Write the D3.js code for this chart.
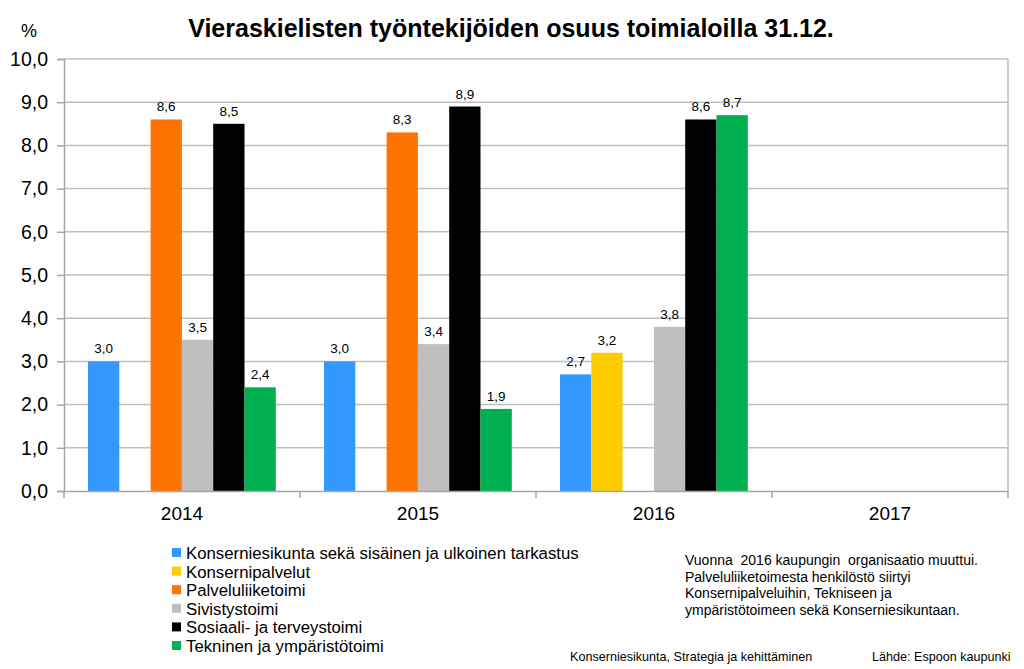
<!DOCTYPE html>
<html><head><meta charset="utf-8">
<script src="https://cdn.jsdelivr.net/npm/d3@7"></script>
<style>body{margin:0;background:#fff}svg{display:block;font-family:"Liberation Sans",Arial,sans-serif}</style>
</head><body>
<script>
const years = ["2014","2015","2016","2017"];
const seriesNames = ["Konserniesikunta sekä sisäinen ja ulkoinen tarkastus","Konsernipalvelut","Palveluliiketoimi","Sivistystoimi","Sosiaali- ja terveystoimi","Tekninen ja ympäristötoimi"];
const colors = ["#3399ff","#ffcc00","#ff7300","#bfbfbf","#000000","#00b050"];
const konserniesikunta = [3.0, 3.0, 2.7, null];
const konsernipalvelut = [null, null, 3.2, null];
const palveluliiketoimi = [8.6, 8.3, null, null];
const sivistystoimi = [3.5, 3.4, 3.8, null];
const sosiaali = [8.5, 8.9, 8.6, null];
const tekninen = [2.4, 1.9, 8.7, null];
const seriesValues = [konserniesikunta, konsernipalvelut, palveluliiketoimi, sivistystoimi, sosiaali, tekninen];
const yTicks = [0,1,2,3,4,5,6,7,8,9,10];
const noteLines = ["Vuonna  2016 kaupungin  organisaatio muuttui.","Palveluliiketoimesta henkilöstö siirtyi","Konsernipalveluihin, Tekniseen ja","ympäristötoimeen sekä Konserniesikuntaan."];

const W=1024,H=669;
const svg=d3.select("body").append("svg").attr("width",W).attr("height",H);
const L=64,R=1008,T=59,B=491;
const x=d3.scaleBand().domain(years).range([L,R]).paddingInner(0).paddingOuter(0);
const y=d3.scaleLinear().domain([0,10]).range([B,T]);
const fmt=d=>d3.format(".1f")(d).replace(".",",");

// gridlines
svg.append("g").selectAll("line").data(yTicks.filter(d=>d>0)).join("line")
  .attr("x1",L).attr("x2",R).attr("y1",d=>y(d)).attr("y2",d=>y(d))
  .attr("stroke","#bfbfbf").attr("stroke-width",1.5);
svg.append("line").attr("x1",R).attr("x2",R).attr("y1",T).attr("y2",B).attr("stroke","#bfbfbf").attr("stroke-width",1.5);

// bars
const bw=31.3;
years.forEach((yr,i)=>{
  const x0=x(yr)+24;
  seriesValues.forEach((vals,s)=>{
    const v=vals[i]; if(v==null) return;
    const bx=x0+s*bw;
    svg.append("rect").attr("x",bx).attr("y",y(v)).attr("width",bw).attr("height",B-y(v)).attr("fill",colors[s]);
    svg.append("text").attr("x",bx+bw/2).attr("y",y(v)-8).attr("text-anchor","middle")
      .attr("font-size",13.5).attr("fill","#000").text(fmt(v));
  });
});

// y axis
const ya=svg.append("g").attr("transform",`translate(${L},0)`)
  .call(d3.axisLeft(y).tickValues(yTicks).tickSize(7).tickPadding(9).tickFormat(fmt));
ya.select(".domain").attr("stroke","#a6a6a6").attr("stroke-width",1.5);
ya.selectAll(".tick line").attr("stroke","#a6a6a6").attr("stroke-width",1.5);
ya.selectAll("text").attr("font-size",19.5).attr("fill","#000").style("font-family","Liberation Sans, Arial, sans-serif");

// x axis
const xa=svg.append("g").attr("transform",`translate(0,${B})`)
  .call(d3.axisBottom(x).tickSize(0).tickPadding(16));
xa.select(".domain").attr("stroke","#a6a6a6").attr("stroke-width",1.5);
xa.selectAll("text").attr("font-size",19).attr("fill","#000").style("font-family","Liberation Sans, Arial, sans-serif");
svg.append("g").selectAll("line").data(d3.range(5)).join("line")
  .attr("x1",d=>L+d*x.bandwidth()).attr("x2",d=>L+d*x.bandwidth()).attr("y1",B).attr("y2",B+7)
  .attr("stroke","#a6a6a6").attr("stroke-width",1.5);

// title
svg.append("text").attr("x",511).attr("y",37).attr("text-anchor","middle").attr("font-size",25).attr("font-weight","bold")
  .text("Vieraskielisten työntekijöiden osuus toimialoilla 31.12.");
svg.append("text").attr("x",21).attr("y",37).attr("font-size",18).text("%");

// legend
const lg=svg.append("g");
seriesNames.forEach((n,i)=>{
  const cy=553+i*18.6;
  lg.append("rect").attr("x",172).attr("y",cy-5).attr("width",9).attr("height",9).attr("fill",colors[i]);
  lg.append("text").attr("x",186).attr("y",cy+6).attr("font-size",16.8).text(n);
});

// note
noteLines.forEach((t,i)=>{
  svg.append("text").attr("x",685).attr("y",565+i*16.7).attr("font-size",14).style("white-space","pre").text(t);
});
svg.append("text").attr("x",570).attr("y",661).attr("font-size",12.6).text("Konserniesikunta, Strategia ja kehittäminen");
svg.append("text").attr("x",872).attr("y",661).attr("font-size",12.6).text("Lähde: Espoon kaupunki");
</script>
</body></html>
